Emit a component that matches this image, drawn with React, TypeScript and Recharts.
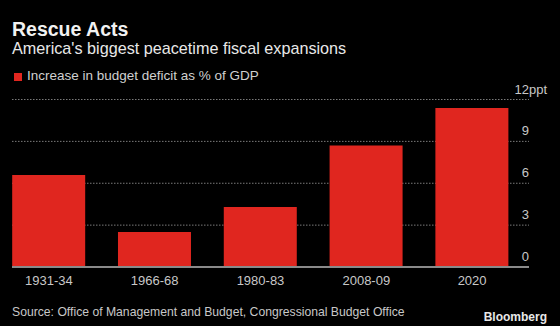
import React from "react";
import { BarChart, Bar, XAxis, YAxis, CartesianGrid } from "recharts";

const categories = ["1931-34", "1966-68", "1980-83", "2008-09", "2020"];
const deficitIncrease = [6.6, 2.5, 4.3, 8.7, 11.4];
const yTicks = [0, 3, 6, 9, 12];

const data = categories.map((c, i) => ({ period: c, value: deficitIncrease[i] }));

const FONT = "'Liberation Sans', Arial, sans-serif";
const RED = "#e0261f";

const YTick = (props: any) => {
  const { y, payload } = props;
  const v = payload.value;
  return (
    <g>
      <text x={529} y={y - 6} textAnchor="end" fill="#c8c8c8" fontSize={13} fontFamily={FONT}>
        {v}
      </text>
      {v === 12 ? (
        <text x={529} y={y - 6} textAnchor="start" fill="#c8c8c8" fontSize={13} fontFamily={FONT}>
          ppt
        </text>
      ) : null}
    </g>
  );
};

export default function App() {
  return (
    <div
      style={{
        position: "fixed",
        left: 0,
        top: 0,
        width: 560,
        height: 326,
        background: "#000",
        overflow: "hidden",
        fontFamily: FONT,
      }}
    >
      <div style={{ position: "absolute", left: 12, top: 18, color: "#f2f2f2", fontWeight: "bold", fontSize: 19.5 }}>
        Rescue Acts
      </div>
      <div style={{ position: "absolute", left: 12, top: 39, color: "#e8e8e8", fontSize: 16.2 }}>
        America's biggest peacetime fiscal expansions
      </div>
      <div style={{ position: "absolute", left: 14, top: 73, width: 8, height: 8, background: RED }} />
      <div style={{ position: "absolute", left: 27, top: 68, color: "#d0d0d0", fontSize: 13.5 }}>
        Increase in budget deficit as % of GDP
      </div>
      <div style={{ position: "absolute", left: 12, top: 305, color: "#c8c8c8", fontSize: 12.2 }}>
        Source: Office of Management and Budget, Congressional Budget Office
      </div>
      <div
        style={{
          position: "absolute",
          right: 13,
          top: 310,
          color: "#e8e8e8",
          fontSize: 12,
          fontWeight: "bold",
          fontFamily: FONT,
        }}
      >
        Bloomberg
      </div>
      <div style={{ position: "absolute", left: 0, top: 0 }}>
        <BarChart
          width={560}
          height={326}
          data={data}
          margin={{ top: 99.5, right: 0, bottom: 0, left: 12 }}
          barCategoryGap="15.3%"
        >
          <CartesianGrid
            horizontal={true}
            vertical={false}
            stroke="#7a7a7a"
            strokeDasharray="1.5 1.5"
          />
          <XAxis
            dataKey="period"
            padding={{ left: -16, right: 4 }}
            axisLine={{ stroke: "#8a8a8a", strokeWidth: 2 }}
            tickLine={false}
            height={59}
            tick={{ fill: "#c8c8c8", fontSize: 13, fontFamily: FONT }}
            tickMargin={3}
            interval={0}
          />
          <YAxis
            orientation="right"
            width={31}
            domain={[0, 12]}
            ticks={yTicks}
            axisLine={false}
            tickLine={false}
            tick={<YTick />}
            interval={0}
          />
          <Bar dataKey="value" fill={RED} isAnimationActive={false} />
        </BarChart>
      </div>
    </div>
  );
}
